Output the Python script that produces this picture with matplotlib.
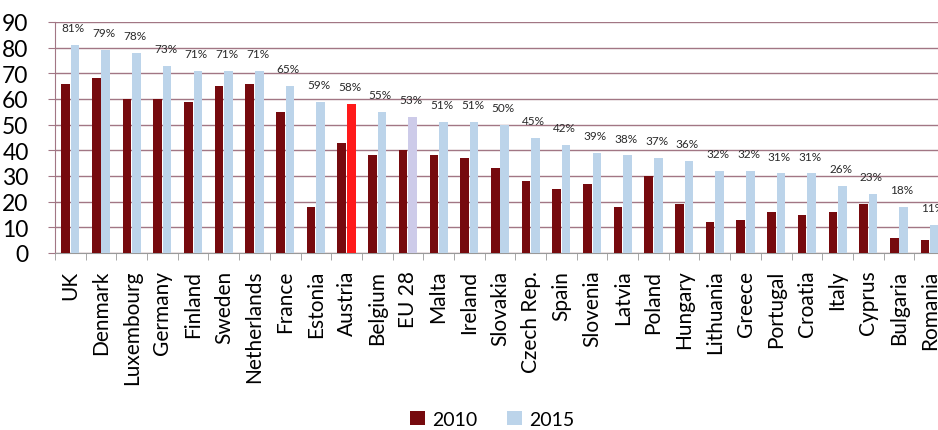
import matplotlib.pyplot as plt
import numpy as np

countries = ['UK', 'Denmark', 'Luxembourg', 'Germany', 'Finland', 'Sweden', 'Netherlands',
             'France', 'Estonia', 'Austria', 'Belgium', 'EU 28', 'Malta', 'Ireland',
             'Slovakia', 'Czech Rep.', 'Spain', 'Slovenia', 'Latvia', 'Poland', 'Hungary',
             'Lithuania', 'Greece', 'Portugal', 'Croatia', 'Italy', 'Cyprus', 'Bulgaria',
             'Romania']
values_2010 = [66, 68, 60, 60, 59, 65, 66, 55, 18, 43, 38, 40, 38, 37, 33, 28, 25, 27,
               18, 30, 19, 12, 13, 16, 15, 16, 19, 6, 5]
values_2015 = [81, 79, 78, 73, 71, 71, 71, 65, 59, 58, 55, 53, 51, 51, 50, 45, 42, 39,
               38, 37, 36, 32, 32, 31, 31, 26, 23, 18, 11]
yticks = [0, 10, 20, 30, 40, 50, 60, 70, 80, 90]

plt.rcParams['font.family'] = ['Lato', 'DejaVu Sans']

c2010 = '#760a0e'
c2015 = '#bcd4ea'
grid_c = '#a27684'

colours_2015 = [c2015] * len(countries)
colours_2015[countries.index('Austria')] = '#ff1a1a'
colours_2015[countries.index('EU 28')] = '#cdcbe9'

fig = plt.figure(figsize=(9.38, 4.31), dpi=100)
ax = fig.add_axes([55 / 938, 177 / 431, 890 / 938, 231 / 431])

x = np.arange(len(countries))
w = 0.28
ax.bar(x - 0.155, values_2010, width=w, color=c2010, label='2010', zorder=3)
ax.bar(x + 0.155, values_2015, width=w, color=colours_2015, label='2015', zorder=3)

# percentage labels above the 2015 bars
for xi, v in zip(x, values_2015):
    ax.annotate(f'{v}%', (xi + 0.1, v), xytext=(0, 12.5), textcoords='offset points',
                ha='center', va='center', fontsize=8.5, color='#2a2a2a')

ax.set_xlim(-0.5, len(countries) - 0.5)
ax.set_ylim(0, 90)
ax.set_yticks(yticks)
ax.grid(axis='y', color=grid_c, linewidth=1, zorder=0)
ax.set_xticks(x)
ax.set_xticklabels(countries, rotation=90, fontsize=15)
ax.set_xticks(np.arange(len(countries) + 1) - 0.5, minor=True)
ax.tick_params(axis='x', which='major', length=0, pad=12)
ax.tick_params(axis='x', which='minor', length=5, color='#999999', direction='out')
ax.tick_params(axis='y', length=5, color=grid_c, labelsize=16.5, pad=14)

for s in ['top', 'right']:
    ax.spines[s].set_visible(False)
ax.spines['left'].set_color(grid_c)
ax.spines['bottom'].set_color('#999999')

handles, labels = ax.get_legend_handles_labels()
fig.legend(handles, labels, loc='center', bbox_to_anchor=(0.525, 0.025), ncol=2,
           frameon=False, fontsize=14, handlelength=0.75, handleheight=0.75,
           handletextpad=0.4, columnspacing=1.5)

plt.savefig('out.png', dpi=100)
